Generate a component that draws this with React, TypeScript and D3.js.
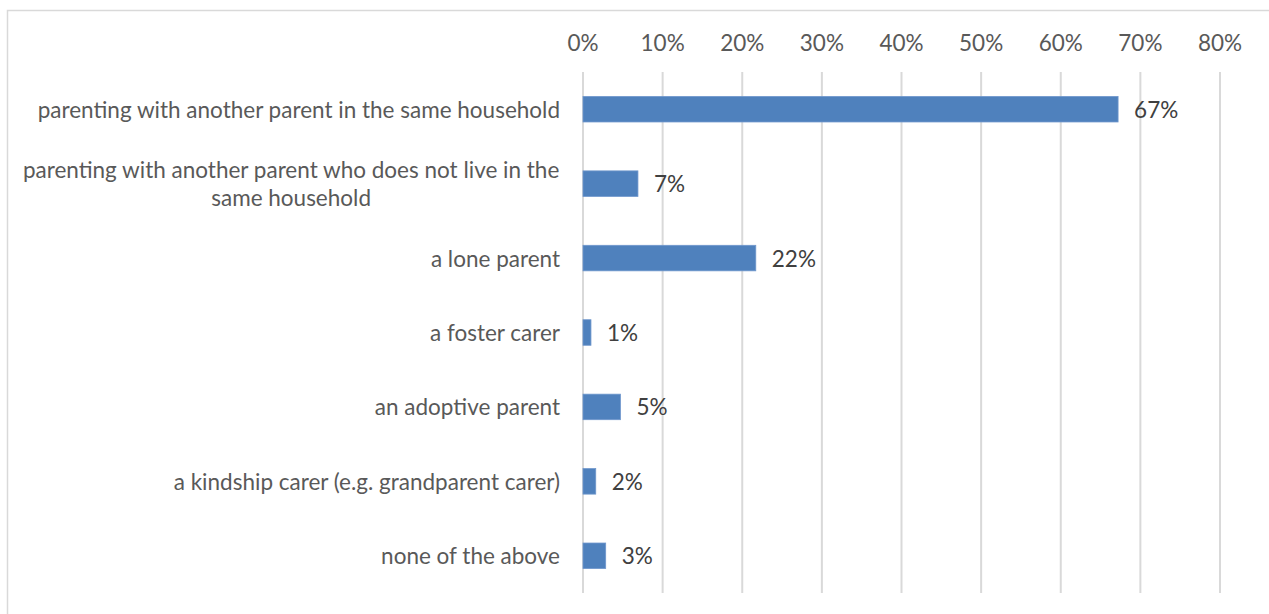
import React, { useMemo } from "react";
import * as d3 from "d3";

const categories: string[] = [
  "parenting with another parent in the same household",
  "parenting with another parent who does not live in the same household",
  "a lone parent",
  "a foster carer",
  "an adoptive parent",
  "a kindship carer (e.g. grandparent carer)",
  "none of the above",
];
const values: number[] = [0.672, 0.069, 0.217, 0.01, 0.047, 0.016, 0.0285];
const tickValues: number[] = [0, 0.1, 0.2, 0.3, 0.4, 0.5, 0.6, 0.7, 0.8];

const W = 1269;
const H = 614;
const FONT = "Lato, 'Open Sans', sans-serif";
const FS = 22.5;

function measure(text: string): number {
  const canvas = document.createElement("canvas");
  const ctx = canvas.getContext("2d");
  if (!ctx) return text.length * 10;
  ctx.font = `${FS}px Lato`;
  return ctx.measureText(text).width;
}

function wrapLabel(text: string, maxWidth: number): string[] {
  const words = text.split(" ");
  const lines: string[] = [];
  let cur = "";
  for (const w of words) {
    const test = cur ? cur + " " + w : w;
    if (measure(test) > maxWidth && cur) {
      lines.push(cur);
      cur = w;
    } else cur = test;
  }
  if (cur) lines.push(cur);
  return lines;
}

export default function App() {
  const x = d3.scaleLinear().domain([0, 0.8]).range([583, 1220]);
  const p = 0.657;
  const y = d3
    .scaleBand<string>()
    .domain(categories)
    .range([72, 593])
    .paddingInner(p)
    .paddingOuter(p / 2);

  const wrapped = useMemo(() => categories.map((c) => wrapLabel(c, 560)), []);
  const lineH = 28.5;
  const labelRight = 560;

  return (
    <svg
      width={W}
      height={H}
      style={{ position: "fixed", left: 0, top: 0, background: "#fff" }}
      fontFamily={FONT}
    >
      <rect x={7.5} y={10.5} width={W + 10} height={H + 10} fill="#fff" stroke="#d9d9d9" strokeWidth={1.5} />
      {tickValues.map((t) => (
        <g key={t}>
          <line x1={x(t)} x2={x(t)} y1={72} y2={593} stroke="#d9d9d9" strokeWidth={2} />
          <text
            x={x(t)}
            y={42}
            textAnchor="middle"
            dominantBaseline="central"
            fontSize={FS}
            fill="#595959"
          >
            {d3.format(".0%")(t)}
          </text>
        </g>
      ))}
      {categories.map((c, i) => {
        const by = y(c)!;
        const cy = by + y.bandwidth() / 2;
        const lines = wrapped[i];
        const bw = Math.max(...lines.map(measure));
        const cx = labelRight - bw / 2;
        return (
          <g key={c}>
            <rect
              x={x(0)}
              y={by}
              width={x(values[i]) - x(0)}
              height={y.bandwidth()}
              fill="#4f81bd"
              stroke="#6f97cc"
              strokeWidth={0.8}
            />
            {lines.map((ln, j) => (
              <text
                key={j}
                x={lines.length > 1 ? cx : labelRight}
                y={cy + (j - (lines.length - 1) / 2) * lineH}
                textAnchor={lines.length > 1 ? "middle" : "end"}
                dominantBaseline="central"
                fontSize={FS}
                fill="#595959"
              >
                {ln}
              </text>
            ))}
            <text
              x={x(values[i]) + 16}
              y={cy}
              dominantBaseline="central"
              fontSize={FS}
              fill="#404040"
            >
              {d3.format(".0%")(values[i])}
            </text>
          </g>
        );
      })}
    </svg>
  );
}
